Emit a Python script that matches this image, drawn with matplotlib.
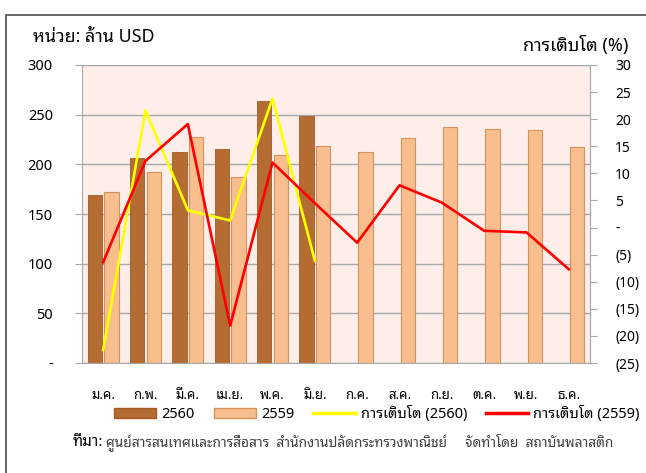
import matplotlib
matplotlib.use('Agg')
import matplotlib.pyplot as plt
import matplotlib.font_manager as fm
from matplotlib.patches import Patch, Rectangle
from matplotlib.lines import Line2D
import numpy as np

months = ['ม.ค.', 'ก.พ.', 'มี.ค.', 'เม.ย.', 'พ.ค.', 'มิ.ย.',
          'ก.ค.', 'ส.ค.', 'ก.ย.', 'ต.ค.', 'พ.ย.', 'ธ.ค.']
v2560 = [169, 206, 212, 215, 264, 249]
v2559 = [172, 192, 228, 187, 209, 218, 212, 227, 238, 236, 235, 217]
g2560 = [-22.6, 21.6, 3.2, 1.3, 23.8, -6.1]
g2559 = [-6.4, 12.3, 19.1, -18.1, 12.0, 4.5, -2.8, 7.8, 4.6, -0.6, -0.9, -7.7]

# pick a Thai face (Tahoma is not here), looped ones look closer
names = {f.name for f in fm.fontManager.ttflist}
fam = None
for n in ['Noto Sans Thai Looped', 'Sarabun', 'Noto Sans Thai', 'Bai Jamjuree', 'Niramit']:
    if n in names:
        fam = n
        break
plt.rcParams['font.family'] = [fam, 'DejaVu Sans'] if fam else ['DejaVu Sans']

fig = plt.figure(figsize=(6.46, 4.73), dpi=100)
ax = fig.add_axes([82 / 646, 110 / 473, 508 / 646, 298 / 473])
ax.set_facecolor('#FDEEE9')

x = np.arange(len(months))
ax.bar(x[:len(v2560)] - 0.2, v2560, width=0.34, color='#B56C32',
       edgecolor='#A35A26', lw=0.6, zorder=2)
ax.bar(x + 0.2, v2559, width=0.34, color='#F9BE8D',
       edgecolor='#D4925C', lw=0.8, zorder=2)

ax.set_xlim(-0.5, 11.5)
ax.set_ylim(0, 300)
ax.set_yticks(range(0, 301, 50))
ax.set_yticklabels(['-' if v == 0 else str(v) for v in range(0, 301, 50)], fontsize=10.5)
ax.set_xticks(x)
ax.set_xticklabels(months, fontsize=9.5)
ax.yaxis.grid(True, color='#A8A8A8', lw=1)
ax.set_axisbelow(True)
ax.tick_params(axis='y', direction='out', length=5, color='#A8A8A8', pad=16)
ax.tick_params(axis='x', length=0, pad=19)
for s in ax.spines.values():
    s.set_color('#A8A8A8')
ax.spines['top'].set_visible(False)

ax2 = ax.twinx()
ax2.plot(x[:len(g2560)], g2560, color='#FFFF00', lw=1.9, zorder=3)
ax2.plot(x, g2559, color='#FF0000', lw=1.9, zorder=4)
ax2.set_ylim(-25, 30)
rt = list(range(-25, 31, 5))
ax2.set_yticks(rt)
ax2.set_yticklabels(['-' if v == 0 else ('(%d)' % -v if v < 0 else str(v)) for v in rt], fontsize=10)
ax2.tick_params(axis='y', direction='out', length=5, color='#A8A8A8', pad=13)
for s in ax2.spines.values():
    s.set_visible(False)
ax2.spines['right'].set_visible(True)
ax2.spines['right'].set_color('#A8A8A8')

fig.text(33 / 646, 1 - 37 / 473, 'หน่วย: ล้าน USD', fontsize=12.8, va='center', ha='left')
fig.text(628 / 646, 1 - 45 / 473, 'การเติบโต (%)', fontsize=13, va='center', ha='right')

handles = [Patch(facecolor='#B56C32', edgecolor='#A35A26'),
           Patch(facecolor='#F9BE8D', edgecolor='#D4925C'),
           Line2D([], [], color='#FFFF00', lw=2.5),
           Line2D([], [], color='#FF0000', lw=2.5)]
labels = ['2560', '2559', 'การเติบโต (2560)', 'การเติบโต (2559)']
fig.legend(handles, labels, loc='center', bbox_to_anchor=(377 / 646, 1 - 414 / 473),
           ncol=4, frameon=False, fontsize=10.5, handlelength=2.9, handletextpad=0.35,
           columnspacing=1.3)

t = fig.text(73 / 646, 1 - 442 / 473, 'ที่มา:', fontsize=11, fontweight='bold', va='center')
fig.canvas.draw()
bb = t.get_window_extent()
fig.text((bb.x1 + 2) / 646, 1 - 442 / 473,
         'ศูนย์สารสนเทศและการสื่อสาร  สำนักงานปลัดกระทรวงพาณิชย์     จัดทำโดย  สถาบันพลาสติก',
         fontsize=9.9, color='#404040', va='center')

fig.patches.append(Rectangle((6 / 646, -0.1), 1.2, 1.1 - 15 / 473, transform=fig.transFigure,
                             fill=False, edgecolor='#5A5A5A', lw=1.3))

fig.savefig('out.png', dpi=100)
